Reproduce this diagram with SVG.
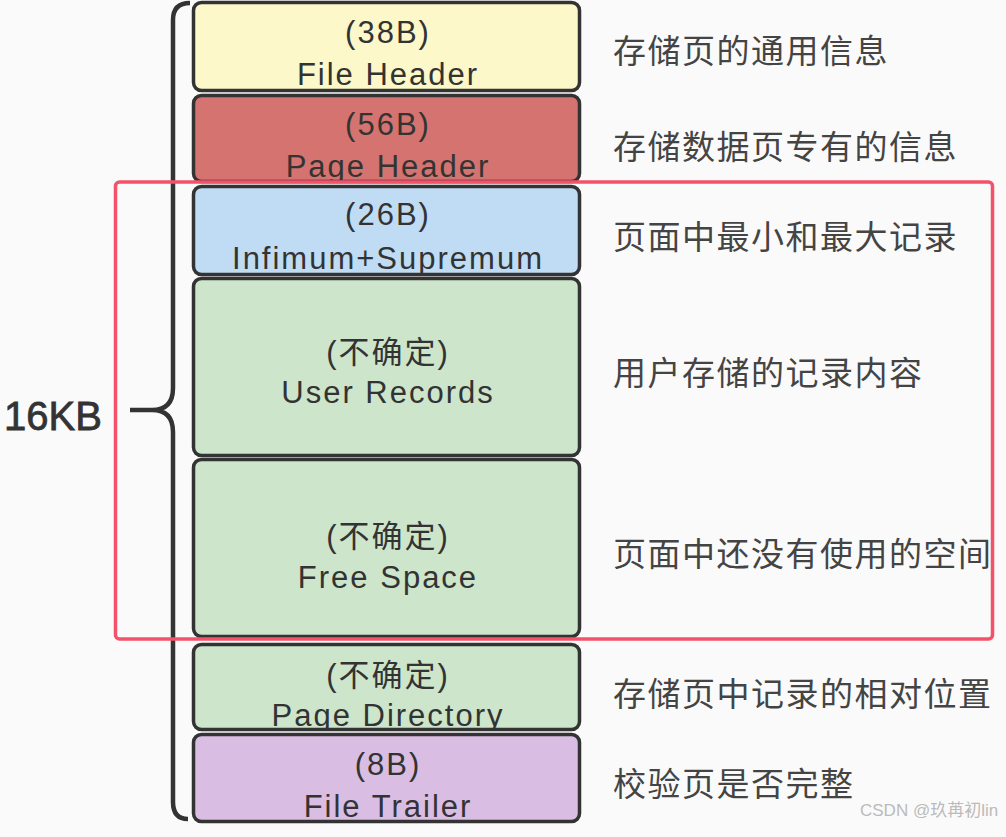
<svg xmlns="http://www.w3.org/2000/svg" width="1006" height="837" viewBox="0 0 1006 837">
<style>
.box{stroke:#333;stroke-width:3.5}
.t{font-family:"Liberation Sans","Noto Sans CJK SC",sans-serif;font-size:31px;fill:#333;text-anchor:middle;letter-spacing:2px}
.r{font-family:"Noto Sans CJK SC",sans-serif;font-size:33px;fill:#444;letter-spacing:1.5px}
</style>
<defs>
<clipPath id="c2"><rect x="193" y="95" width="387" height="86"/></clipPath>
<clipPath id="c6"><rect x="193" y="644" width="387" height="84"/></clipPath>
</defs>
<rect width="1006" height="837" fill="#fafafa"/>
<g id="brace">
<path d="M190 3 Q173 3 173 20 L173 388 Q173 410 152 410 L130 410 M152 410 Q173 410 173 432 L173 802 Q173 819 188 819" fill="none" stroke="#333" stroke-width="4.5"/>
<text x="4" y="430" style="font-family:'Liberation Sans',sans-serif;font-size:40px;fill:#333;stroke:#333;stroke-width:0.8">16KB</text>
</g>
<g id="file-header">
<rect class="box" x="193.5" y="2.5" width="386" height="88" rx="8" fill="#fcf8c9"/>
<text class="t" x="388" y="43">(38B)</text>
<text class="t" x="388" y="85">File Header</text>
</g>
<g id="page-header">
<rect class="box" x="193.5" y="95.5" width="386" height="86" rx="8" fill="#d4736f"/>
<text class="t" x="388" y="135">(56B)</text>
<text class="t" x="388" y="177" clip-path="url(#c2)">Page Header</text>
</g>
<g id="infimum">
<rect class="box" x="193.5" y="186.5" width="386" height="88" rx="8" fill="#c0dcf5"/>
<text class="t" x="388" y="225">(26B)</text>
<text class="t" x="388" y="269">Infimum+Supremum</text>
</g>
<g id="user-records">
<rect class="box" x="193.5" y="278.5" width="386" height="177" rx="8" fill="#cde5cb"/>
<text class="t" x="388" y="363">(不确定)</text>
<text class="t" x="388" y="403">User Records</text>
</g>
<g id="free-space">
<rect class="box" x="193.5" y="459.5" width="386" height="177" rx="8" fill="#cde5cb"/>
<text class="t" x="388" y="547">(不确定)</text>
<text class="t" x="388" y="588">Free Space</text>
</g>
<g id="page-directory">
<rect class="box" x="193.5" y="644.5" width="386" height="85" rx="8" fill="#cde5cb"/>
<text class="t" x="388" y="686">(不确定)</text>
<text class="t" x="388" y="726" clip-path="url(#c6)">Page Directory</text>
</g>
<g id="file-trailer">
<rect class="box" x="193.5" y="734.5" width="386" height="87" rx="8" fill="#dabde3"/>
<text class="t" x="388" y="775">(8B)</text>
<text class="t" x="388" y="817">File Trailer</text>
</g>
<g id="highlight">
<rect x="115.5" y="182" width="877" height="457" rx="4" fill="none" stroke="#f4516a" stroke-width="3.5"/>
</g>
<g id="descriptions">
<text class="r" x="613" y="63">存储页的通用信息</text>
<text class="r" x="613" y="159">存储数据页专有的信息</text>
<text class="r" x="613" y="249">页面中最小和最大记录</text>
<text class="r" x="613" y="385">用户存储的记录内容</text>
<text class="r" x="613" y="566">页面中还没有使用的空间</text>
<text class="r" x="613" y="706">存储页中记录的相对位置</text>
<text class="r" x="613" y="796">校验页是否完整</text>
</g>
<text x="860" y="816" style="font-family:'Liberation Sans','Noto Sans CJK SC',sans-serif;font-size:17px;fill:#bbb">CSDN @玖苒初lin</text>
</svg>
